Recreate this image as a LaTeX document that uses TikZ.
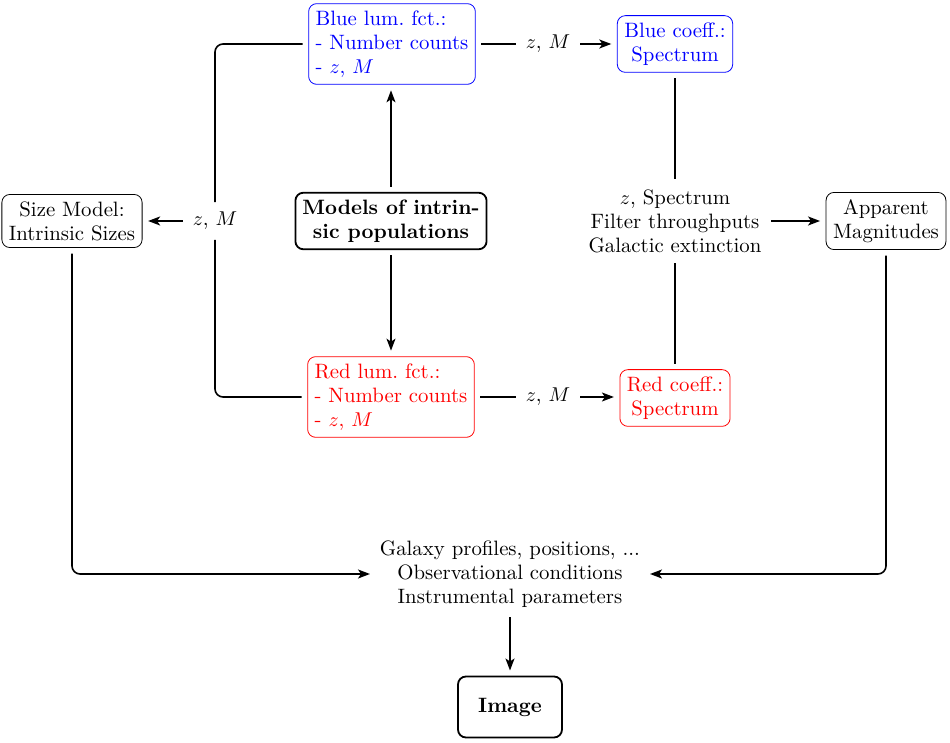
\documentclass[tikz,border=0pt]{standalone}
\usetikzlibrary{arrows.meta}
\begin{document}
\fontsize{10.4pt}{12pt}\selectfont
\begin{tikzpicture}[x=0.5pt,y=-0.5pt,
  box/.style={draw, rounded corners=4pt, align=center, inner sep=3.5pt, outer sep=3pt, line width=0.4pt},
  boldbox/.style={box, line width=0.9pt, font=\bfseries},
  lbl/.style={align=center, inner sep=2pt, outer sep=3pt},
  con/.style={line width=0.8pt},
  arr/.style={con, -{Stealth[length=6pt,width=4.5pt,inset=1.5pt]}},
  corner/.style={rounded corners=4pt}]
\useasboundingbox (0,0) rectangle (950,743);
% nodes
\node[box, draw=blue, text=blue, align=left] (blue) at (392,44) {Blue lum.\ fct.:\\- Number counts\\- $z$, $M$};
\node[box, draw=blue, text=blue] (bcoef) at (675,44) {Blue coeff.:\\Spectrum};
\node[box] (size) at (72,221) {Size Model:\\Intrinsic Sizes};
\node[boldbox] (models) at (391,221) {Models of intrin-\\sic populations};
\node[lbl] (mid) at (675,221) {$z$, Spectrum\\Filter throughputs\\Galactic extinction};
\node[box] (app) at (886,221) {Apparent\\Magnitudes};
\node[box, draw=red, text=red, align=left] (red) at (391,397) {Red lum.\ fct.:\\- Number counts\\- $z$, $M$};
\node[box, draw=red, text=red] (rcoef) at (675,398) {Red coeff.:\\Spectrum};
\node[lbl] (bottom) at (510,574) {Galaxy profiles, positions, ...\\Observational conditions\\Instrumental parameters};
\node[boldbox, minimum width=52pt, minimum height=30.5pt] (image) at (510,707) {Image};
\node[lbl] (zl) at (215,221) {$z$, $M$};
\node[lbl] (zb) at (548,44) {$z$, $M$};
\node[lbl] (zr) at (548,397) {$z$, $M$};
% connectors
\draw[arr] (models.north) -- (models.north |- blue.south);
\draw[arr] (models.south) -- (models.south |- red.north);
\draw[con, corner] (blue.west) -| (zl.north);
\draw[con, corner] (red.west) -| (zl.south);
\draw[arr] (zl) -- (size);
\draw[con] (blue.east |- zb) -- (zb);
\draw[arr] (zb) -- (bcoef);
\draw[con] (red.east |- zr) -- (zr);
\draw[arr] (zr) -- (rcoef.west |- zr);
\draw[con] (bcoef) -- (mid);
\draw[con] (rcoef) -- (mid);
\draw[arr] (mid) -- (app);
\draw[arr, corner] (size.south) |- (bottom.west);
\draw[arr, corner] (app.south) |- (bottom.east);
\draw[arr] (bottom) -- (image);
\end{tikzpicture}
\end{document}
